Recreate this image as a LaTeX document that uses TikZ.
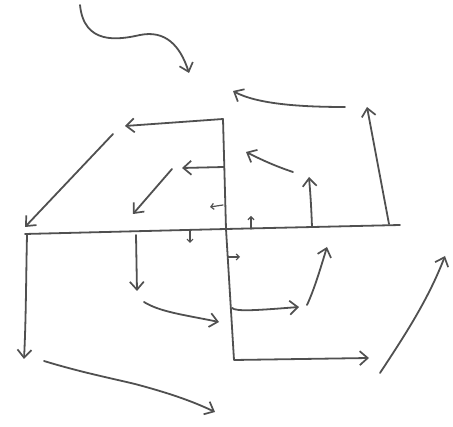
\documentclass[tikz,border=0pt]{standalone}
\usetikzlibrary{arrows.meta}
\definecolor{pencil}{HTML}{505050}
\tikzset{
  stroke/.style={draw=pencil, line width=1.8pt, line cap=round, line join=round},
  barb/.tip={Straight Barb[length=8pt,width=14pt,line width=1.7pt]},
  bigarrow/.style={stroke, -barb},
  smallarrow/.style={stroke, line width=1.2pt, -{Straight Barb[length=3pt,width=6pt,line width=1.2pt]}},
}
\begin{document}
\begin{tikzpicture}[x=1pt,y=-1pt]
\useasboundingbox (0,0) rectangle (453,427);
% coordinates
\coordinate (hL) at (25,234);
\coordinate (hC) at (226,229);
\coordinate (hR) at (400,225);
\coordinate (vTop) at (223,119);
\coordinate (vBot) at (234,360);
\coordinate (tl) at (125,126);
\coordinate (br) at (369,358);
% axes
\draw[stroke] (hL) -- (hC) -- (hR);
\draw[stroke, barb-barb] (tl) -- (vTop) -- (hC) -- (vBot) -- (br);
% top curvy arrow
\coordinate (c0) at (80,5);
\coordinate (c1) at (140,35);
\coordinate (c2) at (189,73);
\draw[bigarrow] (c0) .. controls (84,45) and (118,40) .. (c1) .. controls (165,30) and (180,45) .. (c2);
% upper right
\coordinate (a1s) at (345,107);
\coordinate (a1e) at (233,91);
\draw[bigarrow] (a1s) .. controls (300,107) and (257,104) .. (a1e);
\coordinate (a2s) at (389,224);
\coordinate (a2e) at (367,107);
\draw[bigarrow] (a2s) -- (a2e);
\coordinate (a3s) at (293,172);
\coordinate (a3e) at (246,152);
\draw[bigarrow] (a3s) .. controls (275,166) and (262,160) .. (a3e);
\coordinate (a4s) at (312,227);
\coordinate (a4e) at (309,177);
\draw[bigarrow] (a4s) .. controls (311,200) and (310,190) .. (a4e);
% upper left
\coordinate (m1) at (224,167);
\coordinate (m1e) at (182,168);
\draw[bigarrow] (m1) -- (m1e);
\coordinate (a5s) at (113,134);
\coordinate (a5e) at (25,227);
\draw[bigarrow] (a5s) -- (a5e);
\coordinate (a6s) at (172,169);
\coordinate (a6e) at (133,214);
\draw[bigarrow] (a6s) -- (a6e);
% small arrows near centre
\coordinate (s1s) at (223,205);
\coordinate (s1e) at (210,207);
\draw[smallarrow] (s1s) -- (s1e);
\coordinate (s2s) at (251,229);
\coordinate (s2e) at (251,216);
\draw[smallarrow] (s2s) -- (s2e);
\coordinate (s3s) at (190,231);
\coordinate (s3e) at (190,243);
\draw[smallarrow] (s3s) -- (s3e);
\coordinate (s4s) at (228,257);
\coordinate (s4e) at (240,257);
\draw[smallarrow] (s4s) -- (s4e);
% lower left
\coordinate (a7s) at (27,235);
\coordinate (a7e) at (24,359);
\draw[bigarrow] (a7s) .. controls (26,280) and (26,320) .. (a7e);
\coordinate (a8s) at (44,361);
\coordinate (a8m) at (135,384);
\coordinate (a8e) at (215,412);
\draw[bigarrow] (a8s) .. controls (80,372) and (110,378) .. (a8m) .. controls (165,392) and (190,400) .. (a8e);
\coordinate (a9s) at (136,235);
\coordinate (a9e) at (137,291);
\draw[bigarrow] (a9s) -- (a9e);
\coordinate (a10s) at (144,302);
\coordinate (a10e) at (219,322);
\draw[bigarrow] (a10s) .. controls (160,312) and (185,315) .. (a10e);
% lower right
\coordinate (a11s) at (232,308);
\coordinate (a11e) at (299,307);
\draw[bigarrow] (a11s) .. controls (236,312) and (260,310) .. (a11e);
\coordinate (a12s) at (307,305);
\coordinate (a12e) at (327,247);
\draw[bigarrow] (a12s) .. controls (314,290) and (320,270) .. (a12e);
\coordinate (a13s) at (380,373);
\coordinate (a13e) at (445,256);
\draw[bigarrow] (a13s) .. controls (405,335) and (428,300) .. (a13e);
\end{tikzpicture}
\end{document}
